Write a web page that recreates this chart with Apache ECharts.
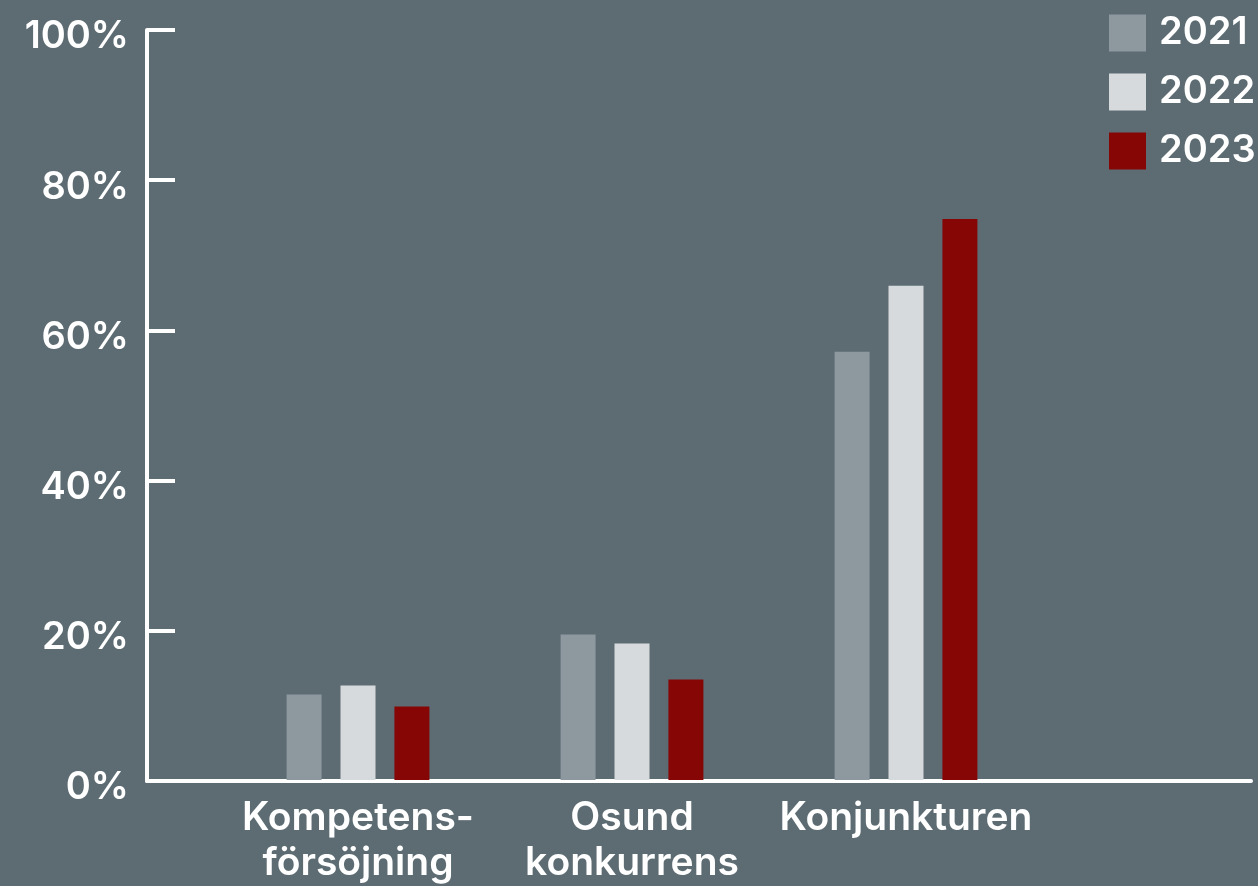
<!DOCTYPE html>
<html>
<head>
<meta charset="utf-8">
<script src="https://cdn.jsdelivr.net/npm/echarts@6/dist/echarts.min.js"></script>
<style>
html,body{margin:0;padding:0;background:#5d6c73;}
#c{width:1258px;height:886px;}
</style>
</head>
<body>
<div id="c"></div>
<script>
const categories = ['Kompetens-\nförsöjning', 'Osund\nkonkurrens', 'Konjunkturen'];
const seriesNames = ['2021', '2022', '2023'];
const values2021 = [11.4, 19.4, 57.1];
const values2022 = [12.6, 18.2, 65.9];
const values2023 = [9.8, 13.4, 74.8];
const yTicks = [0, 20, 40, 60, 80, 100];

const colors = ['#8d989f', '#d7dadd', '#860606'];
const font = 'Inter';
const chart = echarts.init(document.getElementById('c'));
chart.setOption({
  backgroundColor: '#5d6c73',
  animation: false,
  textStyle: { fontFamily: font, color: '#ffffff' },
  legend: {
    orient: 'vertical',
    left: 1104,
    top: 9,
    itemWidth: 37,
    itemHeight: 37,
    itemGap: 21,
    icon: 'rect',
    textStyle: { color: '#ffffff', fontSize: 38, fontFamily: font, fontWeight: 600, padding: [0, 0, 0, 8] },
    data: seriesNames
  },
  grid: [
    { left: 147, right: 7, top: 30, bottom: 105, containLabel: false },
    { left: 221, right: 215, top: 30, bottom: 105, containLabel: false }
  ],
  xAxis: [
    { gridIndex: 0, type: 'value', min: 0, max: 1,
      axisLine: { show: true, lineStyle: { color: '#ffffff', width: 4 } },
      axisTick: { show: false }, axisLabel: { show: false }, splitLine: { show: false } },
    { gridIndex: 1, type: 'category', data: categories,
      axisLine: { show: false }, axisTick: { show: false }, splitLine: { show: false },
      axisLabel: { color: '#ffffff', fontSize: 39, fontFamily: font, fontWeight: 600, lineHeight: 45, margin: 16, interval: 0 } }
  ],
  yAxis: [
    { gridIndex: 0, type: 'value', min: 0, max: 100, interval: 20,
      axisLine: { show: true, lineStyle: { color: '#ffffff', width: 4 } },
      axisTick: { show: true, inside: true, length: 28, lineStyle: { color: '#ffffff', width: 4 } },
      splitLine: { show: false },
      axisLabel: { color: '#ffffff', fontSize: 38, fontFamily: font, fontWeight: 600, margin: 18,
        verticalAlign: 'top', lineHeight: 14,
        formatter: function (v) { return yTicks.indexOf(v) >= 0 ? v + '%' : ''; } } },
    { gridIndex: 1, type: 'value', min: 0, max: 100, show: false }
  ],
  series: [
    { name: seriesNames[0], type: 'bar', xAxisIndex: 1, yAxisIndex: 1, data: values2021, barWidth: 35, barGap: '54%', itemStyle: { color: colors[0] } },
    { name: seriesNames[1], type: 'bar', xAxisIndex: 1, yAxisIndex: 1, data: values2022, barWidth: 35, barGap: '54%', itemStyle: { color: colors[1] } },
    { name: seriesNames[2], type: 'bar', xAxisIndex: 1, yAxisIndex: 1, data: values2023, barWidth: 35, barGap: '54%', itemStyle: { color: colors[2] } }
  ]
});
</script>
</body>
</html>
